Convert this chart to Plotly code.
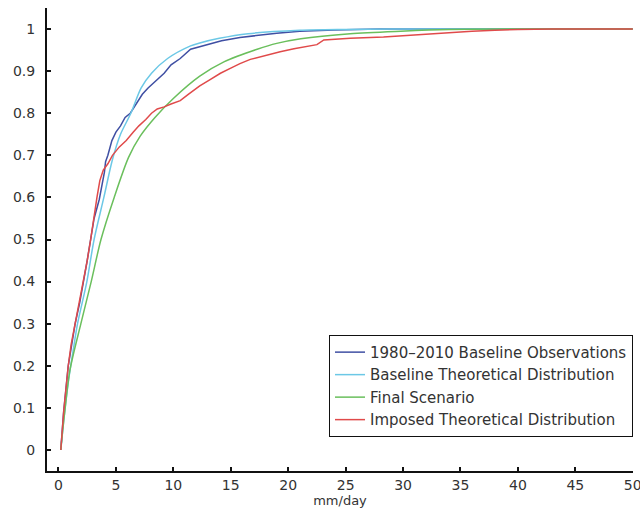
import plotly.graph_objects as go

# Daily precipitation (mm/day) vs. cumulative probability
obs_x = [0.2, 0.45, 0.85, 1.15, 1.45, 1.85, 2.2, 2.5, 2.8, 3.1, 3.55, 3.78, 4.0, 4.1, 4.3,
         4.65, 5.0, 5.4, 5.8, 6.25, 6.8, 7.3, 7.8, 8.6, 9.2, 9.8, 10.6, 11.5, 12.3, 13.2,
         14.2, 15.8, 17.5, 19.0, 21.0, 24.0, 28.0, 50.0]
obs_y = [0.0, 0.09, 0.20, 0.25, 0.30, 0.35, 0.40, 0.45, 0.50, 0.55, 0.595, 0.628, 0.66, 0.685, 0.70,
         0.735, 0.755, 0.77, 0.79, 0.80, 0.825, 0.845, 0.86, 0.88, 0.895, 0.915, 0.93, 0.952, 0.958, 0.965,
         0.972, 0.98, 0.986, 0.99, 0.995, 0.998, 1.0, 1.0]

base_x = [0.2, 0.5, 0.9, 1.3, 1.66, 2.47, 3.1, 3.95, 4.7, 5.4, 6.3, 7.2, 8.1, 9.5, 11.5,
          12.3, 14.0, 16.5, 21.0, 25.0, 30.0, 50.0]
base_y = [0.0, 0.08, 0.17, 0.24, 0.30, 0.40, 0.50, 0.60, 0.69, 0.75, 0.80, 0.86, 0.895, 0.93, 0.96,
          0.967, 0.978, 0.989, 0.997, 0.999, 1.0, 1.0]

final_x = [0.2, 0.5, 1.0, 1.95, 2.85, 3.7, 4.85, 6.1, 7.1, 8.4, 10.0, 12.3, 14.4, 17.3, 19.0,
           21.1, 25.4, 29.8, 34.0, 40.0, 50.0]
final_y = [0.0, 0.08, 0.19, 0.30, 0.40, 0.50, 0.60, 0.695, 0.745, 0.79, 0.835, 0.888, 0.922, 0.952, 0.966,
           0.977, 0.989, 0.995, 0.999, 1.0, 1.0]

imposed_x = [0.2, 0.45, 0.85, 1.1, 1.45, 1.8, 2.2, 2.5, 2.8, 3.05, 3.35, 3.6, 3.9, 4.3, 4.7,
             5.3, 5.9, 6.5, 7.0, 7.6, 8.1, 8.6, 9.2, 9.8, 10.6, 11.3, 12.3, 13.2, 14.1, 15.0,
             15.8, 16.7, 17.8, 19.3, 20.5, 22.5, 23.1, 25.4, 28.3, 29.8, 31.2, 33.0, 34.1, 36.0,
             38.0, 40.0, 43.0, 50.0]
imposed_y = [0.0, 0.09, 0.20, 0.25, 0.30, 0.35, 0.40, 0.45, 0.50, 0.55, 0.60, 0.64, 0.665, 0.68, 0.70,
             0.72, 0.735, 0.755, 0.77, 0.785, 0.80, 0.81, 0.815, 0.822, 0.83, 0.845, 0.865, 0.88, 0.895, 0.907,
             0.918, 0.928, 0.936, 0.946, 0.953, 0.963, 0.974, 0.978, 0.981, 0.984, 0.987, 0.99, 0.992, 0.995,
             0.997, 0.999, 1.0, 1.0]

x_ticks = list(range(0, 55, 5))
y_ticks = [0, 0.1, 0.2, 0.3, 0.4, 0.5, 0.6, 0.7, 0.8, 0.9, 1]
x_range = [-1, 50.02]
y_range = [-0.05, 1.05]

FONT = "DejaVu Sans"

fig = go.Figure()
fig.add_trace(go.Scatter(x=obs_x, y=obs_y, mode="lines", name="1980–2010 Baseline Observations",
                         line=dict(color="#3f4fa3", width=1.5)))
fig.add_trace(go.Scatter(x=base_x, y=base_y, mode="lines", name="Baseline Theoretical Distribution",
                         line=dict(color="#6cc8e6", width=1.5, shape="spline", smoothing=0.8)))
fig.add_trace(go.Scatter(x=final_x, y=final_y, mode="lines", name="Final Scenario",
                         line=dict(color="#6abf5c", width=1.5, shape="spline", smoothing=0.8)))
fig.add_trace(go.Scatter(x=imposed_x, y=imposed_y, mode="lines", name="Imposed Theoretical Distribution",
                         line=dict(color="#e04a4a", width=1.5)))

fig.update_layout(
    width=640, height=515,
    margin=dict(l=47, r=7, t=8, b=44, autoexpand=False),
    paper_bgcolor="white", plot_bgcolor="white",
    font=dict(family=FONT, size=14, color="#333"),
    showlegend=True,
    legend=dict(x=1.0, xanchor="right", y=0.294, yanchor="top",
                bgcolor="white", bordercolor="#111", borderwidth=1,
                font=dict(family=FONT, size=15, color="#333"),
                tracegroupgap=0),
    xaxis=dict(range=x_range, tickvals=x_ticks, ticktext=[str(v) for v in x_ticks],
               showgrid=False, zeroline=False, showline=True, linecolor="#111", linewidth=2,
               ticks="inside", ticklen=4, tickcolor="#111", tickwidth=1.5,
               ticklabeloverflow="allow", automargin=False,
               title=dict(text="mm/day", font=dict(family=FONT, size=13, color="#333"), standoff=2)),
    # en space after each value keeps the labels clear of the axis line
    yaxis=dict(range=y_range, tickvals=y_ticks, ticktext=[f"{v:g}\u2002" for v in y_ticks],
               showgrid=False, zeroline=False, showline=True, linecolor="#111", linewidth=2,
               ticks="inside", ticklen=4, tickcolor="#111", tickwidth=1.5, automargin=False),
)

fig.write_html("out.html")
